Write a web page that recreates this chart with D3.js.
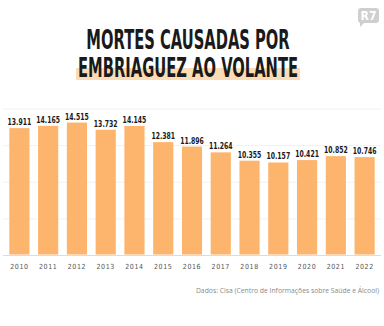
<!DOCTYPE html>
<html>
<head>
<meta charset="utf-8">
<script src="https://cdn.jsdelivr.net/npm/d3@7"></script>
<style>
  body { margin: 0; background: #fff; }
  svg { display: block; }
</style>
</head>
<body>
<div id="chart"></div>
<script>
// data
const years = ['2010', '2011', '2012', '2013', '2014', '2015', '2016', '2017', '2018', '2019', '2020', '2021', '2022'];
const deaths = [13911, 14165, 14515, 13732, 14145, 12381, 11896, 11264, 10355, 10157, 10421, 10852, 10746];
const gridTicks = [0, 4000, 8000, 12000, 16000];
const titleLines = ['MORTES CAUSADAS POR', 'EMBRIAGUEZ AO VOLANTE'];
const sourceText = 'Dados: Cisa (Centro de Informações sobre Saúde e Álcool)';

const W = 384, H = 326;
const margin = { top: 109, right: 5, bottom: 70, left: 5 };

const svg = d3.select('#chart').append('svg')
  .attr('width', W)
  .attr('height', H);

const condensed = '"DejaVu Sans Condensed", "Liberation Sans Narrow", sans-serif';

// title, squeezed sideways like the original display face
svg.append('rect')
  .attr('x', 76).attr('y', 68)
  .attr('width', 224).attr('height', 12)
  .attr('fill', '#fddbb4');

svg.selectAll('.title')
  .data(titleLines)
  .enter()
  .append('text')
  .attr('class', 'title')
  .attr('transform', (d, i) => `translate(188,${i === 0 ? 49 : 77}) scale(0.63,1)`)
  .attr('text-anchor', 'middle')
  .style('font-family', condensed)
  .style('font-weight', 'bold')
  .style('font-size', '26px')
  .attr('fill', '#1a1a1a')
  .text(d => d);

// R7 logo
const logo = svg.append('g').attr('transform', 'translate(358,8)');
logo.append('rect')
  .attr('width', 21).attr('height', 15).attr('rx', 3)
  .attr('fill', '#cfcfcf');
logo.append('path')
  .attr('d', 'M2,13 L2,19 L7,14 Z')
  .attr('fill', '#cfcfcf');
logo.append('text')
  .attr('x', 10.5).attr('y', 12)
  .attr('text-anchor', 'middle')
  .style('font-family', condensed)
  .style('font-weight', 'bold')
  .style('font-size', '12px')
  .attr('fill', '#fff')
  .text('R7');

// scales
const x = d3.scaleBand()
  .domain(years)
  .range([margin.left, W - margin.right])
  .paddingInner(0.3)
  .paddingOuter(0.15);

const y = d3.scaleLinear()
  .domain([0, 16000])
  .range([H - margin.bottom - 0.5, margin.top]);

// grid
svg.append('g')
  .selectAll('line')
  .data(gridTicks)
  .enter()
  .append('line')
  .attr('x1', 3).attr('x2', 381)
  .attr('y1', d => y(d)).attr('y2', d => y(d))
  .attr('stroke', d => d === 0 ? '#dcdcdc' : '#f1f1f1')
  .attr('stroke-width', 1);

// bars
svg.selectAll('.bar')
  .data(deaths)
  .enter()
  .append('rect')
  .attr('class', 'bar')
  .attr('x', (d, i) => x(years[i]))
  .attr('y', d => y(d))
  .attr('width', x.bandwidth())
  .attr('height', d => y(0) - y(d) - 1)
  .attr('fill', '#fdb46c');

// value labels
svg.selectAll('.value')
  .data(deaths)
  .enter()
  .append('text')
  .attr('class', 'value')
  .attr('transform', (d, i) => `translate(${x(years[i]) + x.bandwidth() / 2},${y(d) - 3}) scale(0.72,1)`)
  .attr('text-anchor', 'middle')
  .style('font-family', condensed)
  .style('font-weight', 'bold')
  .style('font-size', '9.5px')
  .attr('fill', '#1a1a1a')
  .text(d => d3.format(',')(d).replace(/,/g, '.'));

// year axis
const xAxis = svg.append('g')
  .attr('transform', `translate(0,${y(0)})`)
  .call(d3.axisBottom(x).tickSize(0).tickPadding(9));
xAxis.select('.domain').remove();
xAxis.selectAll('text')
  .style('font-family', condensed)
  .style('font-size', '7px')
  .style('letter-spacing', '0.6px')
  .attr('fill', '#555');

// source
svg.append('text')
  .attr('x', 379).attr('y', 292.5)
  .attr('text-anchor', 'end')
  .style('font-family', '"Open Sans", sans-serif')
  .style('font-size', '6.8px')
  .attr('fill', '#8a8a8a')
  .text(sourceText);
</script>
</body>
</html>
